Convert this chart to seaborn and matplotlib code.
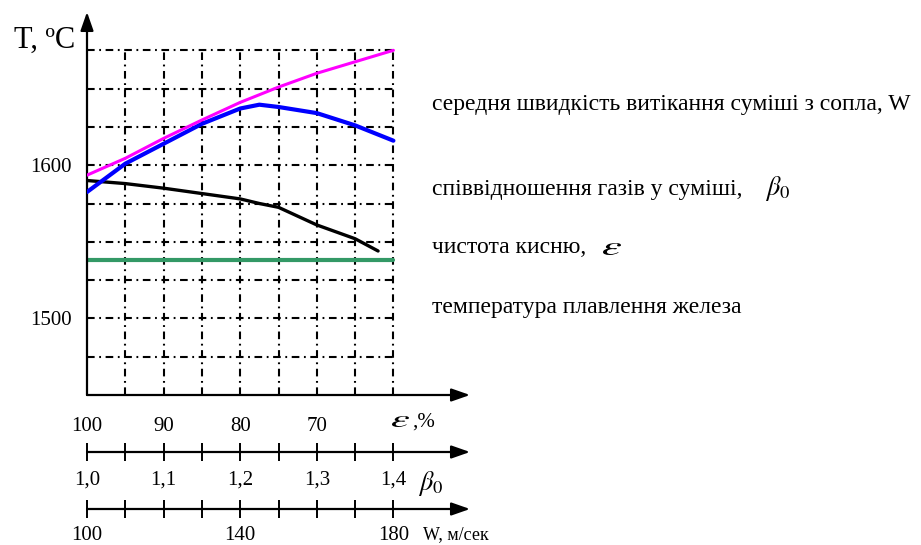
import numpy as np
import matplotlib
matplotlib.use("Agg")
import matplotlib.pyplot as plt
import seaborn as sns
from matplotlib.textpath import TextPath
from matplotlib.patches import PathPatch
from matplotlib.font_manager import FontProperties
from matplotlib.transforms import Affine2D, IdentityTransform

# curves, each against its own parameter scale
w_vals = [100, 110, 120, 130, 140, 150, 160, 170, 180]            # W, m/s
t_w = [1593.5, 1604.5, 1617.5, 1629.5, 1641, 1651, 1660, 1667.5, 1675]

beta_vals = [1.0, 1.05, 1.1, 1.15, 1.2, 1.225, 1.25, 1.3, 1.35, 1.4]
t_beta = [1582.5, 1601, 1614, 1627, 1637, 1639.5, 1638, 1634, 1626, 1616]

eps_vals = [100, 95, 90, 85, 80, 77.5, 75, 70, 65, 62]              # epsilon, %
t_eps = [1590, 1588, 1585, 1581.5, 1578, 1575, 1572.5, 1561, 1552, 1544]

melt_eps = [100, 60]
melt_t = [1538, 1538]

# tick labels of the three bottom scales
eps_ticks = [100, 90, 80, 70]
beta_ticks = [1.0, 1.1, 1.2, 1.3, 1.4]
w_ticks = [100, 140, 180]
t_ticks = [1500, 1600]

labels = [
    "середня швидкість витікання суміші з сопла, W",
    "співвідношення газів у суміші,",
    "чистота кисню,",
    "температура плавлення железа",
]

sns.set_theme(style="white")
plt.rcParams['font.family'] = ['Liberation Serif', 'DejaVu Serif']
plt.rcParams['mathtext.fontset'] = 'stix'
plt.rcParams['lines.scale_dashes'] = False

W, H = 921, 545
fig = plt.figure(figsize=(9.21, 5.45), dpi=100)

L = 87 / W
AW = (470 - 87) / W
ax = fig.add_axes([L, 1 - 395 / H, AW, (395 - 12) / H])
ax.set_xlim(100, 50)
ax.set_ylim(1450, 1700)
for s in ax.spines.values():
    s.set_visible(False)

# dash-dot grid
gstyle = (0, (5.5, 3.3, 1.3, 3.3))
ax.vlines(np.arange(95, 59, -5), 1450, 1675, colors='black', linestyles=[gstyle], lw=1.5)
ax.hlines(np.arange(1475, 1676, 25), 100, 60, colors='black', linestyles=[gstyle], lw=1.5)

# melting point and epsilon curve on main (epsilon) scale
sns.lineplot(x=melt_eps, y=melt_t, ax=ax, color='#339966', lw=3)
sns.lineplot(x=eps_vals, y=t_eps, ax=ax, color='black', lw=2.4)

axb = ax.twiny()
axb.set_xlim(1.0, 1.5)
axb.axis('off')
sns.lineplot(x=beta_vals, y=t_beta, ax=axb, color='#0000ff', lw=3)

axw = ax.twiny()
axw.set_xlim(100, 200)
axw.axis('off')
sns.lineplot(x=w_vals, y=t_w, ax=axw, color='#ff00ff', lw=2.2)

ax.set_ylim(1450, 1700)
ax.set_xlabel("")
ax.set_ylabel("")

arrow = dict(arrowstyle='-|>,head_length=0.8,head_width=0.28', color='black', lw=1.6,
             shrinkA=0, shrinkB=0, mutation_scale=14)
ax.annotate("", xy=(0, 1), xytext=(0, 0), xycoords='axes fraction', arrowprops=arrow)
ax.annotate("", xy=(1, 0), xytext=(0, 0), xycoords='axes fraction', arrowprops=arrow)

ax.set_yticks(t_ticks)
ax.set_yticklabels([str(t) for t in t_ticks])
ax.set_xticks(eps_ticks)
ax.set_xticklabels([str(e) for e in eps_ticks])
ax.tick_params(axis='both', length=0, labelsize=15, colors='black')
ax.tick_params(axis='y', pad=11)
ax.tick_params(axis='x', pad=16)


def ftext(x, y, s, **kw):
    kw.setdefault('color', 'black')
    return fig.text(x / W, 1 - y / H, s, **kw)


def wide_eps(x, ybot, w, h):
    # wide italic epsilon like the Symbol font one
    tp = TextPath((0, 0), r"$\varepsilon$", size=100, prop=FontProperties(family='serif'))
    ext = tp.get_extents()
    tr = (Affine2D().translate(-ext.x0, -ext.y0)
          .scale(w / ext.width, h / ext.height).translate(x, H - ybot))
    fig.add_artist(PathPatch(tr.transform_path(tp), fc='black', ec='none',
                             transform=IdentityTransform()))


wide_eps(392, 427, 17, 11)
ftext(412, 427, ",%", ha='left', va='baseline', fontsize=15)
ftext(75, 40, "T, ºC", ha='right', va='center', fontsize=22)


def scale_axis(ybot, lo, hi, ticks, tlabels, pad):
    a = fig.add_axes([L, 1 - ybot / H, AW, 0.0001])
    a.set_xlim(lo, hi)
    a.set_yticks([])
    for s in a.spines.values():
        s.set_visible(False)
    a.set_facecolor('none')
    a.annotate("", xy=(1, 0), xytext=(0, 0), xycoords='axes fraction', arrowprops=arrow)
    a.set_xticks(ticks)
    a.set_xticklabels(tlabels)
    a.tick_params(axis='x', direction='inout', length=13, width=1.4, pad=pad,
                  labelsize=15, colors='black', bottom=True)
    return a


b_minor = np.round(np.arange(1.0, 1.41, 0.05), 2)
b_labels = [f"{b:.1f}".replace('.', ',') if any(np.isclose(b, t) for t in beta_ticks) else ""
            for b in b_minor]
scale_axis(452, 1.0, 1.5, b_minor, b_labels, 7)
ftext(418, 484, r"$\beta_0$", ha='left', va='center', fontsize=19)

w_minor = np.arange(100, 181, 10)
w_labels = [str(w) if w in w_ticks else "" for w in w_minor]
scale_axis(509, 100, 200, w_minor, w_labels, 6)
ftext(423, 535, "W, м/сек", ha='left', va='center', fontsize=13)

baselines = [110, 195, 253, 313]
for lab, y in zip(labels, baselines):
    ftext(432, y, lab, ha='left', va='baseline', fontsize=17)
ftext(765, 195, r"$\beta_0$", ha='left', va='baseline', fontsize=19)
wide_eps(603, 255, 18, 12)

fig.savefig("out.png", dpi=100)
